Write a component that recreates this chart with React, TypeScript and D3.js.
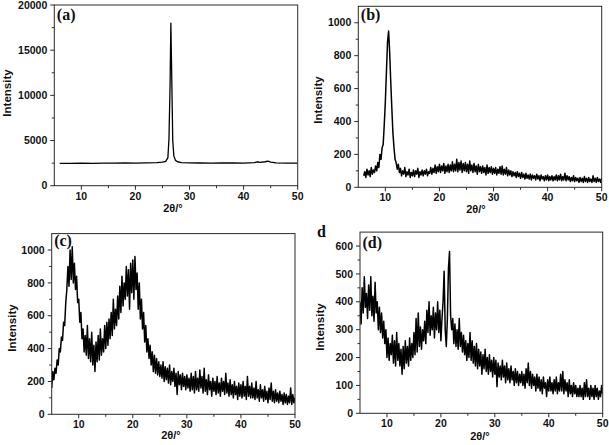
import React from 'react';
import * as d3 from 'd3';

// ---- data ----
// (a) sparse points of a smooth pattern
const aTheta = [6, 8, 10, 12, 14, 16, 18, 20, 22, 24, 25, 25.6, 26.0, 26.2, 26.4, 26.55, 26.7, 26.9, 27.1, 27.4, 27.8, 28.5, 30, 32, 34, 36, 38, 40, 42, 42.5, 43, 44, 44.5, 45, 46, 48, 50];
const aIntensity = [2480, 2470, 2490, 2480, 2500, 2490, 2510, 2500, 2520, 2550, 2600, 2700, 3100, 5200, 11000, 18000, 12500, 5000, 3300, 2800, 2650, 2560, 2530, 2510, 2500, 2520, 2510, 2500, 2560, 2650, 2580, 2650, 2720, 2620, 2520, 2500, 2490];

// (b)(c)(d) sampled on a 0.2° grid
const bStart = 6;
const cStart = 5;
const dStart = 5;
const gridStep = 0.2;

const bIntensity = [
  70, 95, 60, 110, 75, 100, 65, 120, 80, 105, 90, 130, 100, 150, 120, 200, 170, 240, 260, 380,
  520, 700, 880, 950, 820, 640, 480, 330, 240, 170, 150, 110, 140, 90, 115, 70, 100, 80, 120, 65,
  95, 75, 110, 60, 90, 70, 105, 65, 100, 80, 115, 60, 95, 75, 105, 70, 100, 80, 110, 70,
  95, 85, 120, 80, 115, 90, 135, 85, 125, 95, 140, 90, 130, 100, 145, 85, 130, 95, 140, 90,
  135, 100, 155, 95, 140, 100, 170, 95, 150, 105, 160, 90, 145, 100, 150, 95, 140, 85, 160, 100,
  135, 90, 145, 95, 130, 80, 140, 95, 125, 85, 130, 90, 120, 75, 135, 85, 120, 90, 125, 80,
  115, 85, 120, 75, 110, 85, 125, 80, 130, 75, 110, 80, 120, 70, 105, 75, 100, 65, 95, 70,
  90, 60, 95, 65, 85, 55, 90, 60, 80, 50, 85, 55, 75, 50, 80, 45, 75, 55, 70, 45,
  80, 50, 70, 40, 75, 50, 65, 40, 70, 45, 75, 40, 65, 45, 70, 40, 65, 45, 75, 40,
  70, 45, 80, 40, 65, 45, 85, 40, 70, 45, 65, 35, 60, 40, 70, 35, 60, 40, 55, 30,
  60, 35, 55, 30, 65, 35, 55, 30, 60, 35, 50, 30, 70, 35, 55, 30, 60, 35, 50, 30, 55
];

const cIntensity = [
  160, 260, 210, 280, 250, 330, 300, 400, 380, 470, 450, 560, 540, 680, 760, 900, 780, 1000, 820, 1020,
  800, 920, 760, 840, 680, 700, 560, 620, 460, 520, 380, 480, 360, 540, 340, 460, 320, 500, 300, 420,
  260, 440, 320, 480, 330, 520, 360, 460, 380, 540, 400, 560, 420, 580, 460, 620, 480, 700, 520, 640,
  540, 720, 580, 780, 620, 840, 660, 800, 700, 900, 720, 880, 640, 920, 740, 940, 700, 960, 760, 860,
  640, 800, 580, 700, 520, 620, 440, 540, 380, 460, 340, 420, 300, 380, 260, 360, 250, 340, 240, 320,
  230, 300, 220, 320, 200, 290, 210, 280, 190, 300, 180, 260, 200, 280, 170, 250, 120, 260, 180, 240,
  150, 250, 170, 230, 150, 240, 160, 220, 140, 250, 150, 230, 130, 260, 150, 220, 140, 270, 160, 230,
  130, 280, 140, 210, 120, 240, 150, 200, 110, 220, 140, 200, 120, 230, 130, 190, 110, 220, 140, 200,
  120, 250, 130, 190, 110, 210, 120, 180, 100, 200, 120, 170, 90, 190, 110, 180, 100, 200, 110, 170,
  90, 230, 110, 170, 100, 190, 100, 160, 90, 200, 100, 150, 80, 180, 100, 150, 80, 170, 90, 140,
  70, 160, 90, 190, 80, 140, 70, 150, 80, 130, 70, 140, 80, 120, 60, 130, 70, 120, 60, 110,
  70, 160, 60, 120, 70, 100
];

const dIntensity = [
  400, 320, 450, 360, 490, 380, 430, 340, 460, 370, 490, 350, 420, 330, 470, 360, 400, 300, 380, 290,
  360, 270, 330, 250, 300, 200, 270, 190, 250, 210, 280, 180, 260, 170, 290, 190, 250, 170, 230, 140,
  240, 160, 260, 180, 240, 170, 270, 190, 250, 200, 290, 210, 340, 220, 360, 240, 310, 230, 300, 260,
  330, 250, 370, 290, 400, 280, 350, 300, 380, 270, 360, 300, 400, 290, 370, 260, 340, 400, 510, 300,
  240, 340, 520, 580, 350, 300, 340, 250, 320, 240, 300, 230, 340, 240, 290, 220, 280, 210, 260, 190,
  250, 200, 290, 190, 260, 180, 240, 170, 250, 160, 230, 170, 220, 140, 210, 160, 230, 150, 200, 140,
  210, 150, 190, 130, 200, 140, 190, 95, 180, 130, 170, 120, 190, 130, 170, 110, 180, 120, 160, 110,
  170, 120, 150, 100, 160, 110, 150, 100, 140, 110, 150, 100, 140, 90, 160, 110, 180, 100, 150, 90,
  140, 100, 130, 80, 140, 90, 130, 80, 120, 70, 130, 90, 110, 60, 120, 80, 130, 80, 110, 70,
  120, 80, 130, 70, 110, 80, 140, 80, 150, 70, 120, 80, 110, 60, 120, 70, 100, 60, 110, 70,
  100, 60, 90, 60, 100, 60, 90, 50, 110, 60, 120, 60, 90, 50, 100, 60, 90, 50, 100, 60,
  90, 50, 80, 60, 100, 70
];

// ticks
const xMajor = [10, 20, 30, 40, 50];
const xMinor = [15, 25, 35, 45];
const aYMajor = [0, 5000, 10000, 15000, 20000];
const aYMinor = [2500, 7500, 12500, 17500];
const bcYMajor = [0, 200, 400, 600, 800, 1000];
const bcYMinor = [100, 300, 500, 700, 900];
const dYMajor = [0, 100, 200, 300, 400, 500, 600];
const dYMinor = [50, 150, 250, 350, 450, 550];

const panelLabels = ['(a)', '(b)', '(c)', '(d)'];
const yTitle = 'Intensity';
const xTitle = '2θ/°';

const SANS = '"Liberation Sans", Arial, sans-serif';
const SERIF = '"Liberation Serif", "Times New Roman", serif';

type PanelProps = {
  id: string;
  box: { left: number; right: number; top: number; bottom: number };
  yMax: number;
  thetas: number[];
  values: number[];
  yMajor: number[];
  yMinor: number[];
  label: string;
  yTitleX: number;
  yTitleY: number;
  xTitleX: number;
  xTitleY: number;
  labelY: number;
  lineWidth: number;
};

function Panel(p: PanelProps) {
  const { left, right, top, bottom } = p.box;
  const x = d3.scaleLinear().domain([5, 50]).range([left, right]);
  const y = d3.scaleLinear().domain([0, p.yMax]).range([bottom, top]);
  const line = d3
    .line<number>()
    .x((_, i) => x(p.thetas[i]))
    .y((d) => y(d));
  const axisColor = '#2a2a2a';
  return (
    <g>
      <defs>
        <clipPath id={`clip-${p.id}`}>
          <rect x={left} y={top} width={right - left} height={bottom - top} />
        </clipPath>
      </defs>
      <path
        d={line(p.values) || ''}
        fill="none"
        stroke="#000"
        strokeWidth={p.lineWidth}
        strokeLinejoin="round"
        clipPath={`url(#clip-${p.id})`}
      />
      <rect x={left} y={top} width={right - left} height={bottom - top} fill="none" stroke={axisColor} strokeWidth={1} />
      {xMajor.map((t) => (
        <g key={`xm${t}`}>
          <line x1={x(t)} x2={x(t)} y1={bottom} y2={bottom + 4} stroke={axisColor} />
          <text x={x(t)} y={bottom + 14} textAnchor="middle" fontFamily={SANS} fontWeight="bold" fontSize={10.5} fill="#111">
            {t}
          </text>
        </g>
      ))}
      {xMinor.map((t) => (
        <line key={`xn${t}`} x1={x(t)} x2={x(t)} y1={bottom} y2={bottom + 2.5} stroke={axisColor} />
      ))}
      {p.yMajor.map((t) => (
        <g key={`ym${t}`}>
          <line x1={left - 4} x2={left} y1={y(t)} y2={y(t)} stroke={axisColor} />
          <text x={left - 7} y={y(t) + 3.7} textAnchor="end" fontFamily={SANS} fontWeight="bold" fontSize={10.5} fill="#111">
            {t}
          </text>
        </g>
      ))}
      {p.yMinor.map((t) => (
        <line key={`yn${t}`} x1={left - 2.5} x2={left} y1={y(t)} y2={y(t)} stroke={axisColor} />
      ))}
      <text x={left + 2.5} y={p.labelY} fontFamily={SERIF} fontWeight="bold" fontSize={16} fill="#111">
        {p.label}
      </text>
      <text
        transform={`translate(${p.yTitleX},${p.yTitleY}) rotate(-90)`}
        textAnchor="middle"
        fontFamily={SANS}
        fontWeight="bold"
        fontSize={11.5}
        fill="#111"
      >
        {yTitle}
      </text>
      <text x={p.xTitleX} y={p.xTitleY} textAnchor="middle" fontFamily={SANS} fontWeight="bold" fontSize={11} fill="#111">
        {xTitle}
      </text>
    </g>
  );
}

const gridThetas = (start: number, n: number) => d3.range(n).map((i) => +(start + i * gridStep).toFixed(2));

export default function App() {
  return (
    <svg
      width={609}
      height={445}
      viewBox="0 0 609 445"
      style={{ position: 'absolute', left: 0, top: 0, background: '#fff' }}
    >
      <rect x={0} y={0} width={609} height={445} fill="#fff" />
      <Panel
        id="a"
        box={{ left: 54.3, right: 297.7, top: 5, bottom: 185.7 }}
        yMax={20000}
        thetas={aTheta}
        values={aIntensity}
        yMajor={aYMajor}
        yMinor={aYMinor}
        label={panelLabels[0]}
        yTitleX={10.5}
        yTitleY={93}
        xTitleX={173}
        xTitleY={212}
        labelY={20}
        lineWidth={1.3}
      />
      <Panel
        id="b"
        box={{ left: 358.3, right: 601.7, top: 6.3, bottom: 187.3 }}
        yMax={1100}
        thetas={gridThetas(bStart, bIntensity.length)}
        values={bIntensity}
        yMajor={bcYMajor}
        yMinor={bcYMinor}
        label={panelLabels[1]}
        yTitleX={322}
        yTitleY={100}
        xTitleX={476}
        xTitleY={213}
        labelY={20}
        lineWidth={1.5}
      />
      <Panel
        id="c"
        box={{ left: 51.7, right: 295, top: 233.6, bottom: 414.3 }}
        yMax={1100}
        thetas={gridThetas(cStart, cIntensity.length)}
        values={cIntensity}
        yMajor={bcYMajor}
        yMinor={bcYMinor}
        label={panelLabels[2]}
        yTitleX={15.5}
        yTitleY={328}
        xTitleX={171}
        xTitleY={439}
        labelY={246}
        lineWidth={1.5}
      />
      <Panel
        id="d"
        box={{ left: 360, right: 602.7, top: 232.1, bottom: 413.3 }}
        yMax={650}
        thetas={gridThetas(dStart, dIntensity.length)}
        values={dIntensity}
        yMajor={dYMajor}
        yMinor={dYMinor}
        label={panelLabels[3]}
        yTitleX={323.5}
        yTitleY={327}
        xTitleX={480}
        xTitleY={440}
        labelY={248}
        lineWidth={1.5}
      />
      <text x={317} y={237} fontFamily={SERIF} fontWeight="bold" fontSize={16} fill="#111">
        d
      </text>
    </svg>
  );
}
